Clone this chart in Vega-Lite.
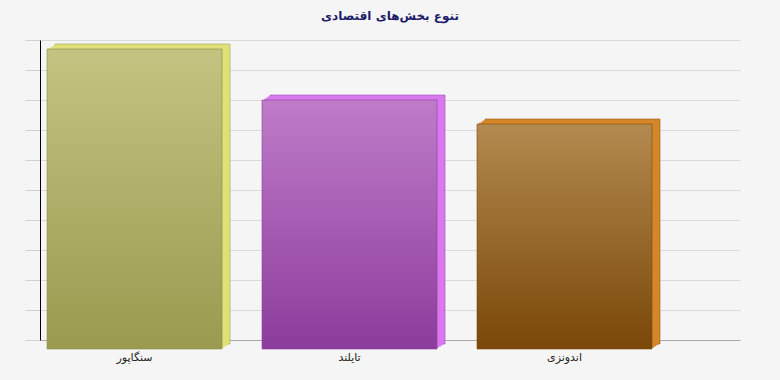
{
  "$schema": "https://vega.github.io/schema/vega-lite/v6.json",
  "width": 700,
  "height": 300,
  "autosize": "none",
  "padding": {"left": 40, "top": 40, "right": 40, "bottom": 40},
  "background": "#f5f5f5",
  "title": {
    "text": "تنوع بخش‌های اقتصادی",
    "font": "DejaVu Sans",
    "fontSize": 12,
    "fontWeight": "bold",
    "color": "#1c1c6b",
    "anchor": "middle",
    "offset": 17
  },
  "config": {"view": {"stroke": null}},
  "data": {
    "values": [
      {"country": "سنگاپور", "value": 100},
      {"country": "تایلند", "value": 83},
      {"country": "اندونزی", "value": 75}
    ]
  },
  "encoding": {
    "x": {
      "field": "country",
      "type": "nominal",
      "sort": null,
      "scale": {"paddingInner": 0.186, "paddingOuter": 0.221, "align": 0.074},
      "axis": {
        "title": null,
        "ticks": false,
        "labelAngle": 0,
        "labelPadding": 11,
        "labelFont": "DejaVu Sans",
        "labelFontSize": 11,
        "labelColor": "#222222",
        "domainColor": "#aaaaaa",
        "grid": false
      }
    },
    "y": {
      "field": "value",
      "type": "quantitative",
      "scale": {"domain": [0, 100], "nice": false},
      "axis": {
        "title": null,
        "labels": false,
        "values": [0, 10, 20, 30, 40, 50, 60, 70, 80, 90, 100],
        "tickSize": 15,
        "tickColor": "#cfcfcf",
        "domainColor": "#000000",
        "gridColor": "#dadada",
        "grid": true
      }
    },
    "y2": {"datum": 0}
  },
  "layer": [
    {
      "encoding": {
        "color": {
          "field": "country",
          "type": "nominal",
          "sort": null,
          "scale": {"range": ["#dfe07a", "#da78ef", "#d5862a"]},
          "legend": null
        }
      },
      "layer": [
        {
          "mark": {"type": "bar", "xOffset": 8, "x2Offset": 8, "yOffset": 4, "y2Offset": 4, "strokeWidth": 0.6},
          "encoding": {
            "stroke": {
              "field": "country",
              "type": "nominal",
              "sort": null,
              "scale": {"range": ["#a6a650", "#a050b0", "#9a5a12"]},
              "legend": null
            }
          }
        },
        {"mark": {"type": "bar", "xOffset": 6, "x2Offset": 6, "yOffset": 5.25, "y2Offset": 5.25}},
        {"mark": {"type": "bar", "xOffset": 4, "x2Offset": 4, "yOffset": 6.5, "y2Offset": 6.5}},
        {"mark": {"type": "bar", "xOffset": 2, "x2Offset": 2, "yOffset": 7.75, "y2Offset": 7.75}}
      ]
    },
    {
      "transform": [{"filter": "datum.country === 'سنگاپور'"}],
      "mark": {
        "type": "bar", "yOffset": 9, "y2Offset": 9, "stroke": "#8c8c46", "strokeWidth": 0.6,
        "color": {"gradient": "linear", "x1": 0, "y1": 0, "x2": 0, "y2": 1,
          "stops": [{"offset": 0, "color": "#c4c482"}, {"offset": 1, "color": "#9a9a50"}]}
      }
    },
    {
      "transform": [{"filter": "datum.country === 'تایلند'"}],
      "mark": {
        "type": "bar", "yOffset": 9, "y2Offset": 9, "stroke": "#8a3a9a", "strokeWidth": 0.6,
        "color": {"gradient": "linear", "x1": 0, "y1": 0, "x2": 0, "y2": 1,
          "stops": [{"offset": 0, "color": "#bf7cc9"}, {"offset": 1, "color": "#8c3c9c"}]}
      }
    },
    {
      "transform": [{"filter": "datum.country === 'اندونزی'"}],
      "mark": {
        "type": "bar", "yOffset": 9, "y2Offset": 9, "stroke": "#7d4a0c", "strokeWidth": 0.6,
        "color": {"gradient": "linear", "x1": 0, "y1": 0, "x2": 0, "y2": 1,
          "stops": [{"offset": 0, "color": "#b38a50"}, {"offset": 1, "color": "#7a4808"}]}
      }
    }
  ]
}
